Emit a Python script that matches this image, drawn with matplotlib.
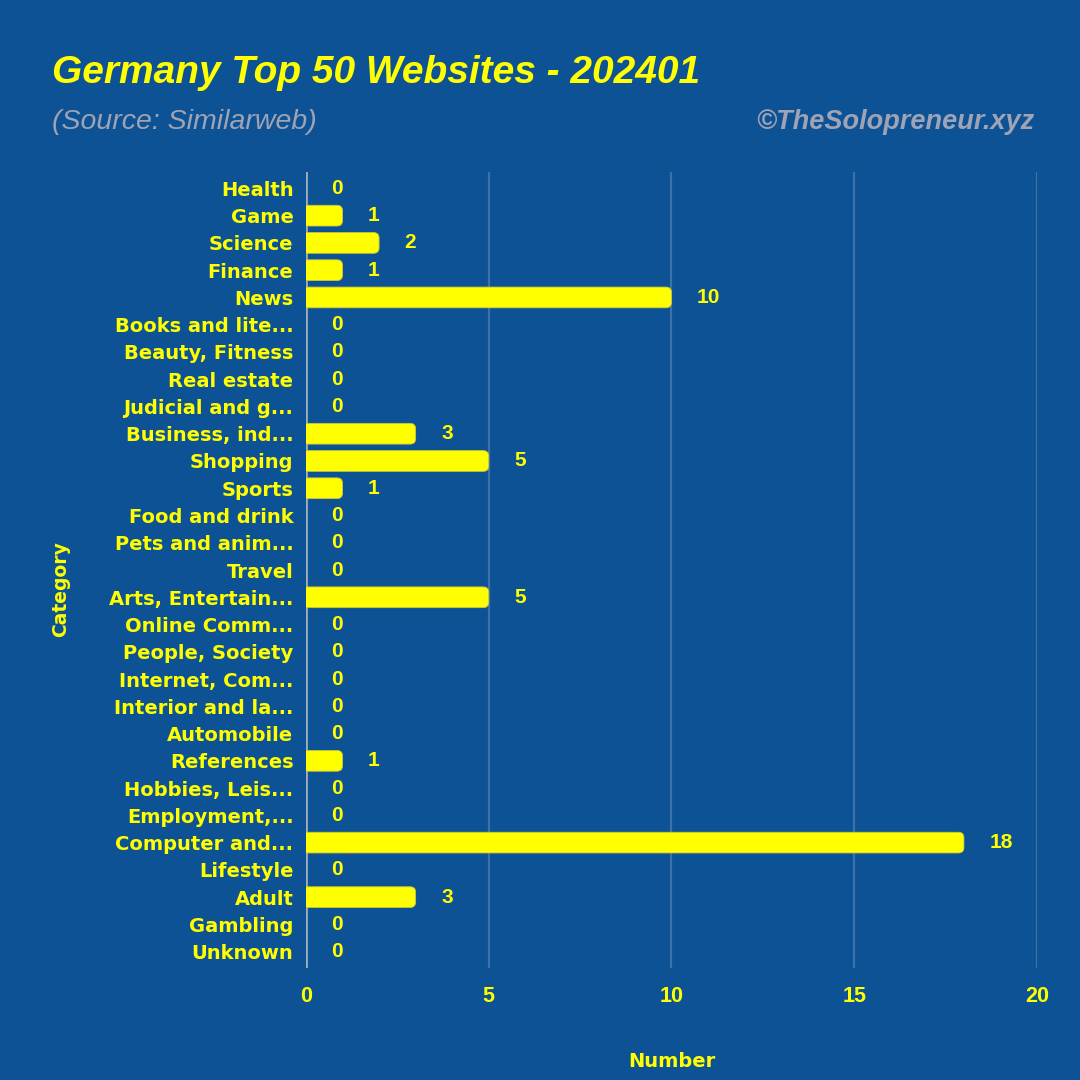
import matplotlib
matplotlib.use('Agg')
import matplotlib.pyplot as plt
from matplotlib.patches import FancyBboxPatch

# Category counts for Germany top 50 websites, 2024-01
categories = ['Health', 'Game', 'Science', 'Finance', 'News', 'Books and lite...',
              'Beauty, Fitness', 'Real estate', 'Judicial and g...', 'Business, ind...',
              'Shopping', 'Sports', 'Food and drink', 'Pets and anim...', 'Travel',
              'Arts, Entertain...', 'Online Comm...', 'People, Society',
              'Internet, Com...', 'Interior and la...', 'Automobile', 'References',
              'Hobbies, Leis...', 'Employment,...', 'Computer and...', 'Lifestyle',
              'Adult', 'Gambling', 'Unknown']
counts = [0, 1, 2, 1, 10, 0, 0, 0, 0, 3, 5, 1, 0, 0, 0, 5, 0, 0, 0, 0, 0, 1,
          0, 0, 18, 0, 3, 0, 0]
xticks = [0, 5, 10, 15, 20]

bg = '#0D5294'
yellow = '#FFFF00'
grey = '#9EA3B5'

plt.rcParams['font.family'] = ['Liberation Sans', 'DejaVu Sans']
fig = plt.figure(figsize=(10.8, 10.8), dpi=100, facecolor=bg)
ax = fig.add_axes([0.2833, 0.1037, 0.6769, 0.737])
ax.set_facecolor(bg)

ypos = list(range(len(categories)))
bars = ax.barh(ypos, counts, height=0.76, color=yellow, zorder=3)

# swap plain bars for ones with rounded right ends (left end clipped at x=0)
for b in bars:
    x0, y0, w, h = b.get_x(), b.get_y(), b.get_width(), b.get_height()
    b.set_visible(False)
    if w <= 0:
        continue
    rb = FancyBboxPatch((x0 - 0.4, y0), w + 0.4, h,
                        boxstyle='round,pad=0,rounding_size=0.15',
                        mutation_aspect=1.33, facecolor=yellow,
                        edgecolor='#C8C83A', linewidth=0.6, zorder=3)
    ax.add_patch(rb)

for y, v in zip(ypos, counts):
    ax.text(v + 0.7, y, str(v), ha='left', va='center', color=yellow,
            fontsize=15, fontweight='bold', zorder=4)

ax.set_xlim(0, 20)
ax.set_ylim(len(categories) - 0.4, -0.6)
ax.set_xticks(xticks)
ax.set_xticklabels([str(t) for t in xticks])
ax.set_yticks(ypos)
ax.set_yticklabels(categories)

ax.grid(axis='x', color='#3E71A8', linewidth=1.6, zorder=0)
ax.axvline(0, color='#9AAFB8', linewidth=2, zorder=2)
for s in ax.spines.values():
    s.set_visible(False)
ax.tick_params(axis='both', length=0, colors=yellow)
ax.tick_params(axis='x', pad=13, labelsize=15.5)
ax.tick_params(axis='y', pad=9)
for lbl in ax.get_xticklabels():
    lbl.set_fontweight('bold')
for lbl in ax.get_yticklabels():
    lbl.set_fontweight('bold')
    lbl.set_family('DejaVu Sans')
    lbl.set_fontsize(14)

ax.set_xlabel('Number', color=yellow, fontsize=14, fontweight='bold',
              family='DejaVu Sans', labelpad=32)
fig.text(0.056, 0.455, 'Category', rotation=90, color=yellow, fontsize=13.5,
         fontweight='bold', family='DejaVu Sans', ha='center', va='center')

fig.text(0.048, 0.932, 'Germany Top 50 Websites - 202401', color=yellow,
         fontsize=28, fontweight='bold', fontstyle='italic', ha='left', va='center')
fig.text(0.048, 0.887, '(Source: Similarweb)', color=grey, fontsize=20.5,
         fontstyle='italic', ha='left', va='center')
fig.text(0.958, 0.887, '\u00a9TheSolopreneur.xyz', color=grey, fontsize=19.5,
         fontweight='bold', fontstyle='italic', ha='right', va='center')

fig.savefig('out.png', dpi=100, facecolor=bg)
